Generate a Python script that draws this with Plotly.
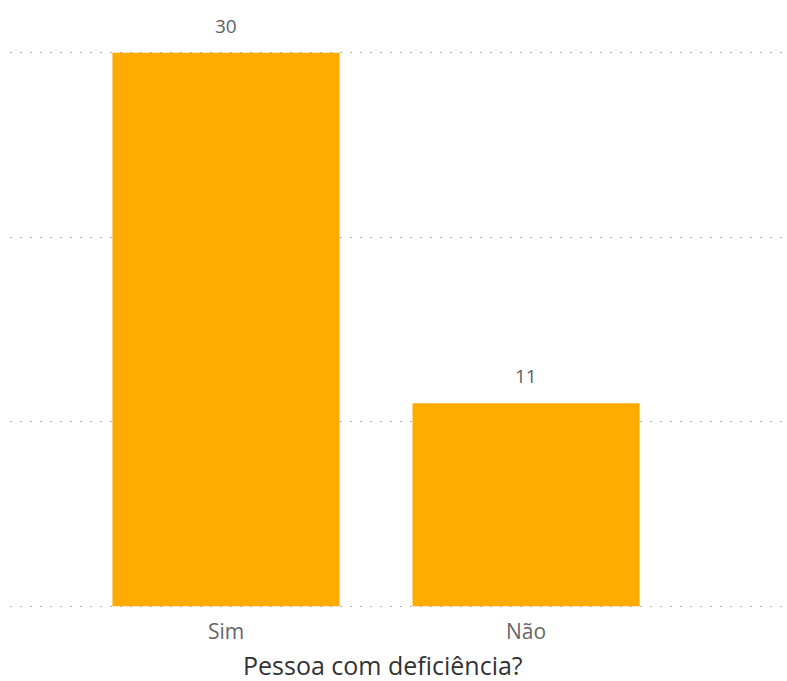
import plotly.graph_objects as go

categories = ["Sim", "Não"]
values = [30, 11]
y_ticks = [0, 10, 20, 30]
x_title = "Pessoa com deficiência?"

BAR_COLOR = "#FFAB00"
LABEL_COLOR = "#5F5F5F"
TICK_COLOR = "#666666"
TITLE_COLOR = "#333333"
FONT = "Open Sans, Noto Sans, DejaVu Sans, sans-serif"

fig = go.Figure(
    go.Bar(
        x=categories,
        y=values,
        marker=dict(color=BAR_COLOR, line=dict(width=0)),
        hoverinfo="skip",
    )
)

# value labels above each bar
for c, v in zip(categories, values):
    fig.add_annotation(
        x=c, y=v, text=str(v), showarrow=False,
        yanchor="bottom", yshift=12,
        font=dict(family=FONT, size=19, color=LABEL_COLOR),
    )

# category axis title, placed under the tick labels
fig.add_annotation(
    x=0.481, xref="paper", y=0, yref="paper",
    text=x_title, showarrow=False,
    xanchor="center", yanchor="middle", yshift=-57,
    borderpad=0,
    font=dict(family=FONT, size=25, color=TITLE_COLOR),
)

fig.update_layout(
    width=787, height=681,
    margin=dict(l=10, r=2, t=51, b=73),
    paper_bgcolor="white", plot_bgcolor="white",
    bargap=0.243,
    showlegend=False,
    font=dict(family=FONT),
)

fig.update_xaxes(
    range=[-0.72, 1.863],
    showgrid=False, zeroline=False, showline=False,
    ticks="", ticklabelstandoff=9,
    tickfont=dict(family=FONT, size=21, color=TICK_COLOR),
)

# small padding on the value range keeps the 0 and 30 gridlines visible
fig.update_yaxes(
    range=[-0.1, 30.1], tickvals=y_ticks, showticklabels=False,
    showgrid=True, gridcolor="#B0B0B0", gridwidth=1, griddash="2px,8px",
    zeroline=False, showline=False,
)

fig.write_html("out.html")
